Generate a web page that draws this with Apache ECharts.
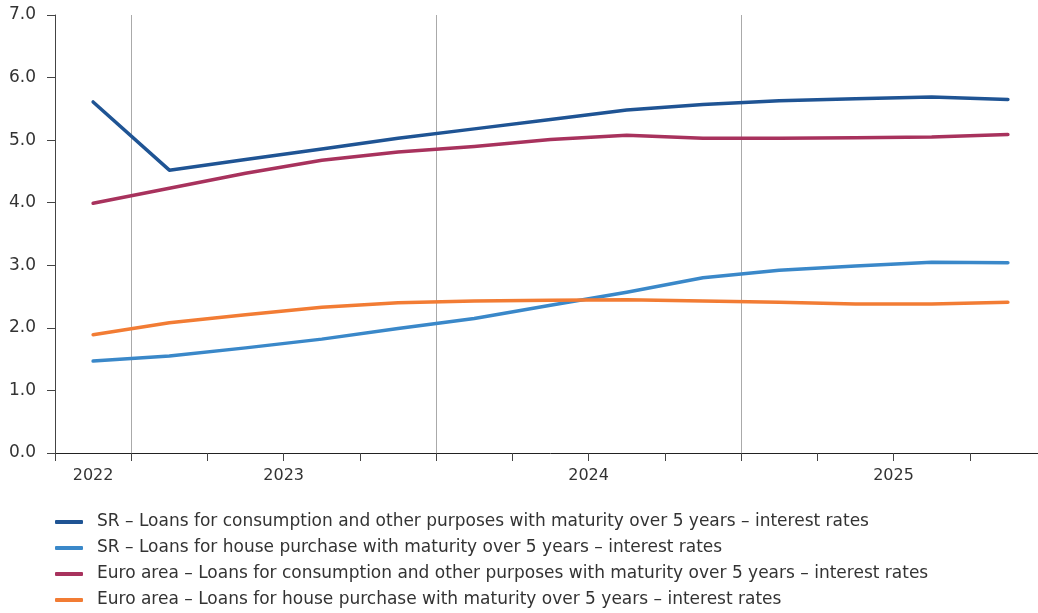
<!DOCTYPE html>
<html lang="en">
<head>
<meta charset="UTF-8">
<title>Interest rates on loans over 5 years</title>
<style type="text/css">
  body { margin: 0; background: #fff; overflow: hidden; }
  #chart { width: 1050px; height: 613px; }
</style>
<script src="https://cdn.jsdelivr.net/npm/echarts@6/dist/echarts.min.js"></script>
</head>
<body>
<div id="chart"></div>
<script type="text/javascript">
// quarters Q4 2022 .. Q4 2025
var quarters = ['2022Q4', '2023Q1', '2023Q2', '2023Q3', '2023Q4', '2024Q1', '2024Q2', '2024Q3', '2024Q4', '2025Q1', '2025Q2', '2025Q3', '2025Q4'];
// year labels sit in the middle of each year's span (in quarter units)
var yearPos = [0.5, 3, 7, 11];
var yearLabels = ['2022', '2023', '2024', '2025'];
// split lines between years (category index of the first quarter of each year)
var yearStarts = [1, 5, 9];

var srConsumption = [5.61, 4.52, 4.69, 4.86, 5.03, 5.18, 5.33, 5.48, 5.57, 5.63, 5.66, 5.69, 5.65];
var srHouse       = [1.47, 1.55, 1.68, 1.82, 1.99, 2.15, 2.36, 2.57, 2.80, 2.92, 2.99, 3.05, 3.04];
var euConsumption = [3.99, 4.23, 4.47, 4.68, 4.81, 4.90, 5.01, 5.08, 5.03, 5.03, 5.04, 5.05, 5.09];
var euHouse       = [1.89, 2.08, 2.21, 2.33, 2.40, 2.43, 2.44, 2.45, 2.43, 2.41, 2.38, 2.38, 2.41];

var names = [
  'SR – Loans for consumption and other purposes with maturity over 5 years – interest rates',
  'SR – Loans for house purchase with maturity over 5 years – interest rates',
  'Euro area – Loans for consumption and other purposes with maturity over 5 years – interest rates',
  'Euro area – Loans for house purchase with maturity over 5 years – interest rates'
];
var colors = ['#1f5494', '#3a88c9', '#a8325d', '#f27c34'];

var font = 'DejaVu Sans';

function lineSeries(name, data, color) {
  return {
    name: name,
    type: 'line',
    data: data,
    smooth: false,
    showSymbol: false,
    symbol: 'none',
    lineStyle: { width: 3.5, color: color, cap: 'round', join: 'round' },
    itemStyle: { color: color }
  };
}

var myChart = echarts.init(document.getElementById('chart'));
var option = {
  animation: false,
  color: colors,
  grid: { left: 55, top: 15, width: 991, bottom: 160, containLabel: false },
  legend: {
    orient: 'vertical',
    left: 55,
    top: 512,
    padding: 0,
    height: 110,
    itemWidth: 28,
    itemHeight: 4,
    itemGap: 6,
    icon: 'roundRect',
    textStyle: { fontFamily: font, fontSize: 17, color: '#333', lineHeight: 20, padding: [0, 0, 0, 9] },
    data: names
  },
  xAxis: [
    {
      type: 'category',
      data: quarters,
      boundaryGap: true,
      axisLine: { lineStyle: { color: '#222', width: 1 } },
      axisTick: { show: true, interval: 0, length: 8, lineStyle: { color: '#444' } },
      axisLabel: { show: false },
      splitLine: {
        show: true,
        interval: function (index) { return yearStarts.indexOf(index) >= 0; },
        lineStyle: { color: '#aaa', width: 1 }
      }
    },
    {
      type: 'value',
      position: 'bottom',
      min: 0,
      max: quarters.length,
      interval: 0.5,
      axisLine: { show: false },
      axisTick: { show: false },
      splitLine: { show: false },
      axisLabel: {
        margin: 15,
        fontFamily: font,
        fontSize: 16,
        color: '#333',
        showMinLabel: true,
        showMaxLabel: true,
        formatter: function (v) {
          var i = yearPos.indexOf(v);
          return i >= 0 ? yearLabels[i] : '';
        }
      }
    }
  ],
  yAxis: {
    type: 'value',
    min: 0,
    max: 7,
    interval: 1,
    axisLine: { show: true, lineStyle: { color: '#444' } },
    axisTick: { show: true, length: 8, lineStyle: { color: '#444' } },
    splitLine: { show: false },
    axisLabel: {
      margin: 19,
      fontFamily: font,
      fontSize: 17,
      color: '#333',
      formatter: function (v) { return v.toFixed(1); }
    }
  },
  series: [
    lineSeries(names[0], srConsumption, colors[0]),
    lineSeries(names[1], srHouse, colors[1]),
    lineSeries(names[2], euConsumption, colors[2]),
    lineSeries(names[3], euHouse, colors[3])
  ]
};
myChart.setOption(option);
</script>
</body>
</html>
